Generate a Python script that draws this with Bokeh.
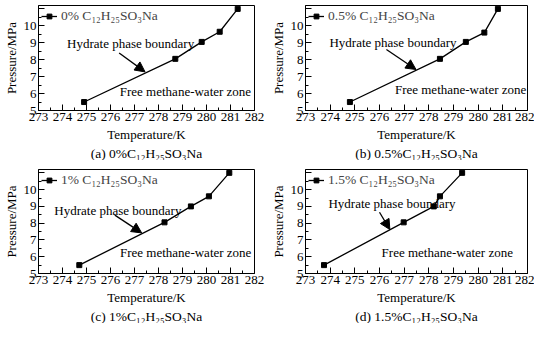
from bokeh.plotting import figure
from bokeh.layouts import column, row
from bokeh.models import Range1d, FixedTicker, Label, Arrow, NormalHead, Title
from bokeh.embed import file_html
from bokeh.resources import INLINE

# ---- data ----
temp_a = [274.9, 278.7, 279.8, 280.55, 281.3]
pres_a = [5.5, 8.05, 9.05, 9.65, 11.0]
temp_b = [274.8, 278.45, 279.5, 280.25, 280.8]
pres_b = [5.5, 8.05, 9.05, 9.6, 11.0]
temp_c = [274.7, 278.25, 279.35, 280.1, 280.95]
pres_c = [5.5, 8.05, 9.0, 9.6, 11.0]
temp_d = [273.75, 276.98, 278.2, 278.45, 279.35]
pres_d = [5.5, 8.05, 9.0, 9.6, 11.0]

legend_labels = ["0% C₁₂H₂₅SO₃Na", "0.5% C₁₂H₂₅SO₃Na",
                 "1% C₁₂H₂₅SO₃Na", "1.5% C₁₂H₂₅SO₃Na"]
captions = ["(a) 0%C₁₂H₂₅SO₃Na", "(b) 0.5%C₁₂H₂₅SO₃Na",
            "(c) 1%C₁₂H₂₅SO₃Na", "(d) 1.5%C₁₂H₂₅SO₃Na"]
x_ticks = [273, 274, 275, 276, 277, 278, 279, 280, 281, 282]
y_ticks = [5, 6, 7, 8, 9, 10, 11]
x_label = "Temperature/K"
y_label = "Pressure/MPa"
text_boundary = "Hydrate phase boundary"
text_zone = "Free methane-water zone"

# ---- annotation placement (data coords) ----
boundary_pos = [(274.19, 8.93), (273.97, 9.0), (273.66, 8.75), (273.93, 9.17)]
arrow_pos = [((276.36, 8.4), (277.44, 7.28)), ((276.28, 8.6), (277.48, 7.42)),
             ((276.18, 8.48), (277.3, 7.42)), ((276.0, 8.65), (276.42, 7.62))]
zone_pos = [(281.86, 6.15), (281.95, 6.25), (281.87, 6.25), (281.41, 6.25)]

FONT = "Liberation Serif"
FS = "13px"


def ttl(text, size, standoff):
    return Title(text=text, align="center", text_font=FONT,
                 text_font_size=size, text_font_style="normal",
                 text_color="black", standoff=standoff)


def panel(i, tx, py, left, right, top, height):
    p = figure(width=267, height=height, output_backend="svg",
               toolbar_location=None, x_range=Range1d(273, 282),
               y_range=Range1d(5, 11.2), min_border_left=left,
               min_border_right=right, min_border_top=top,
               min_border_bottom=0)
    p.xgrid.visible = False
    p.ygrid.visible = False
    p.outline_line_color = "black"
    p.outline_line_width = 1
    p.background_fill_color = "white"
    p.border_fill_color = "white"

    for ax in (p.xaxis[0], p.yaxis[0]):
        ax.axis_line_color = "black"
        ax.major_tick_in = 6
        ax.major_tick_out = 0
        ax.minor_tick_in = 3
        ax.minor_tick_out = 0
        ax.major_tick_line_color = "black"
        ax.minor_tick_line_color = "black"
        ax.major_label_text_font = FONT
        ax.major_label_text_font_size = FS
        ax.major_label_text_color = "black"
        ax.major_label_standoff = 2

    p.xaxis[0].ticker = FixedTicker(ticks=x_ticks,
                                    minor_ticks=[t + 0.5 for t in x_ticks[:-1]])
    p.yaxis[0].ticker = FixedTicker(ticks=y_ticks,
                                    minor_ticks=[t + 0.5 for t in y_ticks[:-1]])
    p.yaxis[0].major_label_overrides = {11: ""}

    p.line(tx, py, line_color="black", line_width=1.3,
           legend_label=legend_labels[i])
    p.scatter(tx, py, marker="square", size=5, color="black",
              legend_label=legend_labels[i])

    lg = p.legend[0]
    lg.location = "top_left"
    lg.background_fill_alpha = 0
    lg.border_line_alpha = 0
    lg.margin = 1
    lg.padding = 2
    lg.glyph_width = 16
    lg.glyph_height = 12
    lg.label_standoff = 4
    lg.label_text_font = FONT
    lg.label_text_font_size = "13.5px"
    lg.label_height = 12

    bx, by = boundary_pos[i]
    p.add_layout(Label(x=bx, y=by, text=text_boundary, text_font=FONT,
                       text_font_size=FS, text_baseline="middle",
                       text_color="black"))
    zx, zy = zone_pos[i]
    p.add_layout(Label(x=zx, y=zy, text=text_zone, text_font=FONT,
                       text_font_size=FS, text_baseline="middle",
                       text_align="right", text_color="black"))
    (ax0, ay0), (ax1, ay1) = arrow_pos[i]
    p.add_layout(Arrow(end=NormalHead(size=10, fill_color="black",
                                      line_color="black"),
                       x_start=ax0, y_start=ay0, x_end=ax1, y_end=ay1,
                       line_color="black", line_width=1.3))

    p.add_layout(ttl(x_label, FS, 3), "below")
    p.add_layout(ttl(captions[i], "13.5px", 0), "below")
    p.add_layout(ttl(y_label, FS, 3), "left")
    return p


pa = panel(0, temp_a, pres_a, 32, 13, 5, 160)
pb = panel(1, temp_b, pres_b, 36, 7, 5, 160)
pc = panel(2, temp_c, pres_c, 32, 13, 9, 163)
pd = panel(3, temp_d, pres_d, 36, 7, 9, 163)

layout = column(row(pa, pb), row(pc, pd))
open("out.html", "w").write(file_html(layout, INLINE))
